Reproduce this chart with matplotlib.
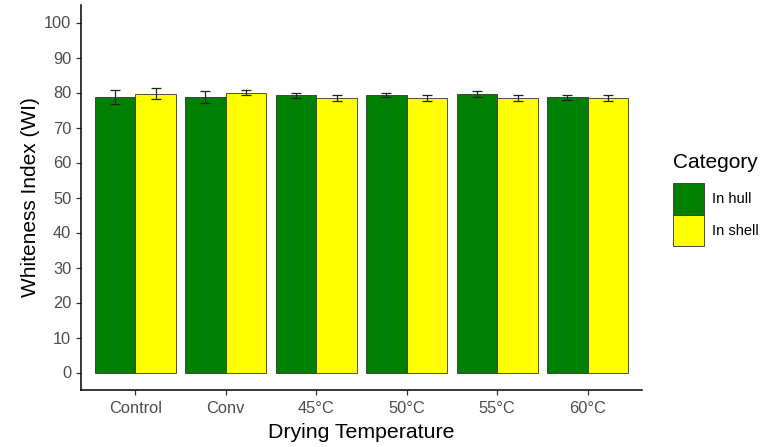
import matplotlib
matplotlib.use("Agg")
import matplotlib.pyplot as plt
import numpy as np
from matplotlib.patches import Patch

categories = ["Control", "Conv", "45°C", "50°C", "55°C", "60°C"]
series_names = ["In hull", "In shell"]
hull_vals = [78.7, 78.7, 79.2, 79.3, 79.5, 78.6]
shell_vals = [79.7, 79.9, 78.4, 78.4, 78.4, 78.5]
hull_err = [2.0, 1.8, 0.7, 0.7, 0.8, 0.75]
shell_err = [1.5, 0.75, 0.85, 0.75, 0.75, 0.8]
yticks = list(range(0, 101, 10))

plt.rcParams['font.family'] = ['Liberation Sans', 'DejaVu Sans']

fig = plt.figure(figsize=(7.67, 4.47), dpi=100)
W, H = 767, 447
ax = fig.add_axes([81 / W, 1 - 390 / H, (642 - 81) / W, (390 - 5) / H])

x = np.arange(1, len(categories) + 1)
bw = 0.45
colors = ["#008000", "#FFFF00"]
for vals, errs, off, c in [(hull_vals, hull_err, -bw / 2, colors[0]),
                           (shell_vals, shell_err, bw / 2, colors[1])]:
    ax.bar(x + off, vals, width=bw, color=c, edgecolor="#333333", linewidth=0.6, zorder=2)
    ax.errorbar(x + off, vals, yerr=errs, fmt="none", ecolor="#222222",
                elinewidth=0.9, capsize=3.3, capthick=0.9, zorder=3)

ax.set_xlim(0.4, 6.6)
ax.set_ylim(-5, 105)
ax.set_xticks(x)
ax.set_xticklabels(categories)
ax.set_yticks(yticks)
ax.tick_params(axis="both", colors="#333333", labelcolor="#4D4D4D", labelsize=11.8,
               length=3.5, width=0.9)
ax.tick_params(axis="x", pad=4.5)
for s in ["top", "right"]:
    ax.spines[s].set_visible(False)
for s in ["left", "bottom"]:
    ax.spines[s].set_linewidth(1.1)
    ax.spines[s].set_color("black")

ax.set_xlabel("Drying Temperature", fontsize=15.3, color="black", labelpad=5)
ax.set_ylabel("Whiteness Index (WI)", fontsize=15, color="black", labelpad=3)

fig.text(673 / W, 1 - 163 / H, "Category", fontsize=15, color="black",
         ha="left", va="center")
handles = [Patch(facecolor=colors[0], edgecolor="#333333", linewidth=0.6),
           Patch(facecolor=colors[1], edgecolor="#333333", linewidth=0.6)]
leg = fig.legend(handles, series_names, loc="upper left",
                 bbox_to_anchor=(673 / W, 1 - 183 / H), frameon=False,
                 fontsize=10.5, borderpad=0,
                 handlelength=2.15, handleheight=2.95, handletextpad=0.55,
                 labelspacing=0.0, borderaxespad=0)

fig.savefig("out.png", dpi=100)
